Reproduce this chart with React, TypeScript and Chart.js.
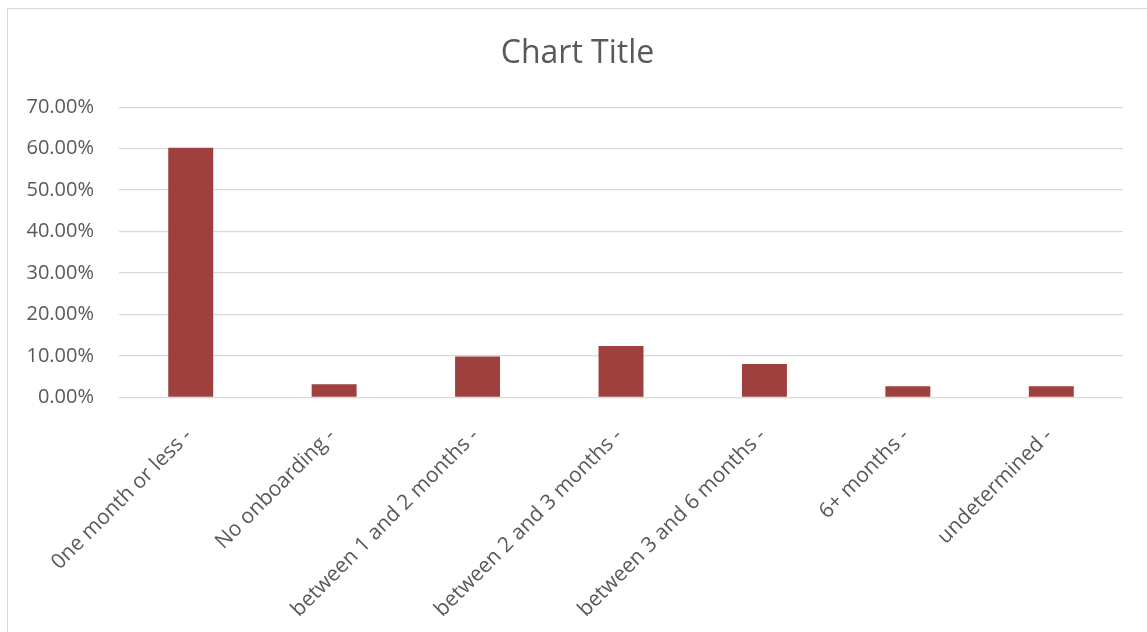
import React, { useEffect, useRef } from "react";
import { Chart, registerables } from "chart.js";

Chart.register(...registerables);

const categories = [
  "0ne month or less -",
  "No onboarding -",
  "between 1 and 2 months -",
  "between 2 and 3 months -",
  "between 3 and 6 months -",
  "6+ months -",
  "undetermined -",
];
const values = [60.2, 3.2, 9.9, 12.4, 8.1, 2.7, 2.7];
const yMin = 0;
const yMax = 70;
const yStep = 10;
const chartTitle = "Chart Title";

const FONT = "'Open Sans', 'DejaVu Sans', sans-serif";
const TEXT = "#595959";
const GRID = "#d9d9d9";
const BAR = "#9e413e";

export default function App() {
  const ref = useRef<HTMLCanvasElement | null>(null);

  useEffect(() => {
    if (!ref.current) return;
    const chart = new Chart(ref.current, {
      type: "bar",
      data: {
        labels: categories,
        datasets: [
          {
            data: values,
            backgroundColor: BAR,
            borderWidth: 0,
            categoryPercentage: 1,
            barPercentage: 0.3135,
          },
        ],
      },
      options: {
        animation: false,
        responsive: false,
        maintainAspectRatio: false,
        layout: { padding: { left: 12, right: 12, top: 0, bottom: 0 } },
        plugins: {
          legend: { display: false },
          tooltip: { enabled: false },
          title: {
            display: true,
            text: chartTitle,
            color: TEXT,
            font: { family: FONT, size: 32, weight: "normal", lineHeight: 1.2 },
            padding: { top: 26, bottom: 33.8 },
          },
        },
        scales: {
          x: {
            grid: { display: false },
            border: { display: false },
            ticks: {
              color: TEXT,
              font: { family: FONT, size: 21 },
              minRotation: 45,
              maxRotation: 45,
              autoSkip: false,
              padding: 18,
              labelOffset: -2,
            },
            afterFit: (axis: any) => {
              axis.height = 234.5;
            },
          },
          y: {
            min: yMin,
            max: yMax,
            grid: { color: GRID, lineWidth: 1.3, drawTicks: false },
            border: { display: false },
            ticks: {
              stepSize: yStep,
              color: TEXT,
              font: { family: FONT, size: 20 },
              padding: 25,
              callback: (v: any) => Number(v).toFixed(2) + "%",
            },
            afterFit: (axis: any) => {
              axis.width = 99;
            },
          },
          yRightSpace: {
            type: "linear",
            position: "right",
            display: true,
            min: yMin,
            max: yMax,
            grid: { display: false, drawOnChartArea: false },
            border: { display: false },
            ticks: { display: false },
            afterFit: (axis: any) => {
              axis.width = 12;
            },
          },
        },
      },
    });
    return () => chart.destroy();
  }, []);

  return (
    <div
      style={{
        position: "fixed",
        left: 7,
        top: 8,
        width: 1140,
        height: 624,
        borderLeft: `1px solid ${GRID}`,
        borderTop: `1px solid ${GRID}`,
        background: "#fff",
        overflow: "hidden",
      }}
    >
      <canvas ref={ref} width={1139} height={623} style={{ display: "block" }} />
    </div>
  );
}
